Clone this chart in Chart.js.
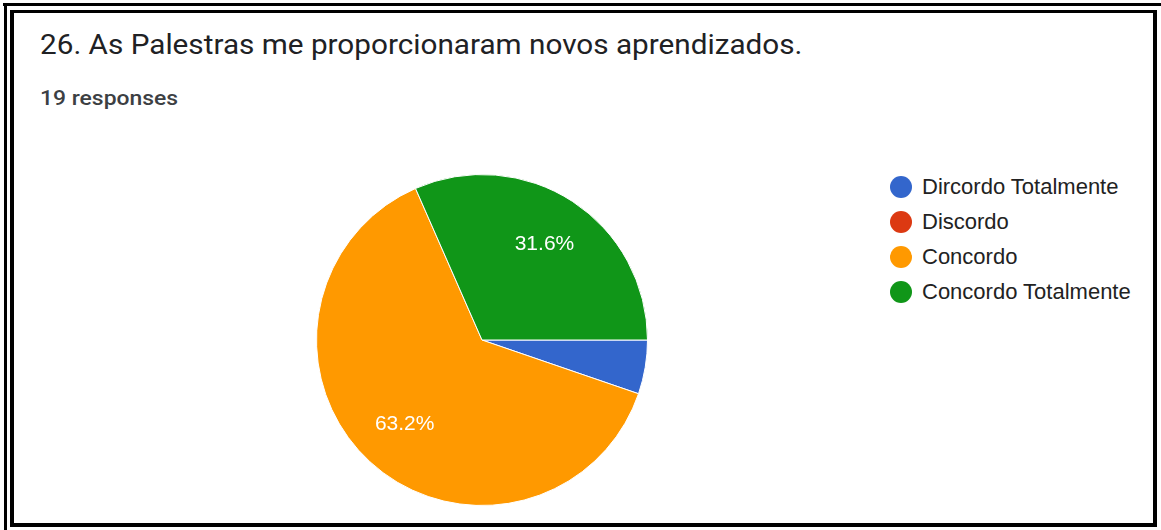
<!DOCTYPE html>
<html>
<head>
<meta charset="utf-8">
<script src="https://cdn.jsdelivr.net/npm/chart.js@4/dist/chart.umd.min.js"></script>
<style>
  body { margin: 0; width: 1161px; height: 530px; background: #fff; position: relative; overflow: hidden; font-family: Roboto, Arial, sans-serif; }
  .line { position: absolute; background: #000; }
  #box { position: absolute; left: 10px; top: 10px; width: 1139px; height: 510px; border: 4px solid #000; border-top-width: 3px; }
  #title { position: absolute; left: 40px; top: 29px; font-size: 27px; line-height: 32px; color: #202124; white-space: nowrap; transform: scaleX(1.1); transform-origin: left top; }
  #sub { position: absolute; left: 40px; top: 86px; font-size: 21px; line-height: 25px; font-weight: 500; color: #3c4043; white-space: nowrap; transform: scaleX(1.09); transform-origin: left top; }
  #wrap { position: absolute; left: 312px; top: 170px; width: 340px; height: 340px; }
  #legend { position: absolute; left: 890px; top: 169px; font-family: "Liberation Sans", Arial, sans-serif; font-size: 22px; color: #222; }
  #legend div { height: 35px; display: flex; align-items: center; white-space: nowrap; }
  #legend span.dot { width: 22px; height: 22px; border-radius: 50%; display: inline-block; margin-right: 10px; }
</style>
</head>
<body>
<div class="line" style="left:3px;top:3px;width:1158px;height:3px"></div>
<div class="line" style="left:4px;top:3px;width:3px;height:527px"></div>
<div id="box"></div>
<div id="title">26. As Palestras me proporcionaram novos aprendizados.</div>
<div id="sub">19 responses</div>
<div id="wrap"><canvas id="chart"></canvas></div>
<div id="legend"></div>
<script>
const labels = ['Dircordo Totalmente', 'Discordo', 'Concordo', 'Concordo Totalmente'];
const counts = [1, 0, 12, 6];
const colors = ['#3366cc', '#dc3912', '#ff9900', '#109618'];

const total = counts.reduce((a, b) => a + b, 0);

// percentage labels inside the slices (google style, small ones skipped)
const sliceLabels = {
  id: 'sliceLabels',
  afterDatasetsDraw(chart) {
    const ctx = chart.ctx;
    const meta = chart.getDatasetMeta(0);
    ctx.save();
    ctx.fillStyle = '#fff';
    ctx.font = '21px "Liberation Sans", Arial, sans-serif';
    ctx.textAlign = 'center';
    ctx.textBaseline = 'middle';
    meta.data.forEach((arc, i) => {
      const pct = counts[i] / total * 100;
      if (pct < 10) return;
      const p = arc.getProps(['x', 'y', 'startAngle', 'endAngle', 'outerRadius']);
      const mid = (p.startAngle + p.endAngle) / 2;
      const r = p.outerRadius * 0.69;
      ctx.fillText(pct.toFixed(1) + '%', p.x + Math.cos(mid) * r, p.y + Math.sin(mid) * r);
    });
    ctx.restore();
  }
};

new Chart(document.getElementById('chart'), {
  type: 'pie',
  data: {
    labels: labels,
    datasets: [{
      data: counts,
      backgroundColor: colors,
      borderColor: '#fff',
      borderWidth: 1
    }]
  },
  options: {
    responsive: true,
    maintainAspectRatio: false,
    animation: false,
    rotation: 90,
    layout: { padding: 4 },
    plugins: {
      legend: { display: false },
      tooltip: { enabled: false }
    }
  },
  plugins: [sliceLabels]
});

// legend built from the same arrays
const legend = document.getElementById('legend');
labels.forEach((l, i) => {
  const row = document.createElement('div');
  row.innerHTML = '<span class="dot" style="background:' + colors[i] + '"></span>' + l;
  legend.appendChild(row);
});
</script>
</body>
</html>
